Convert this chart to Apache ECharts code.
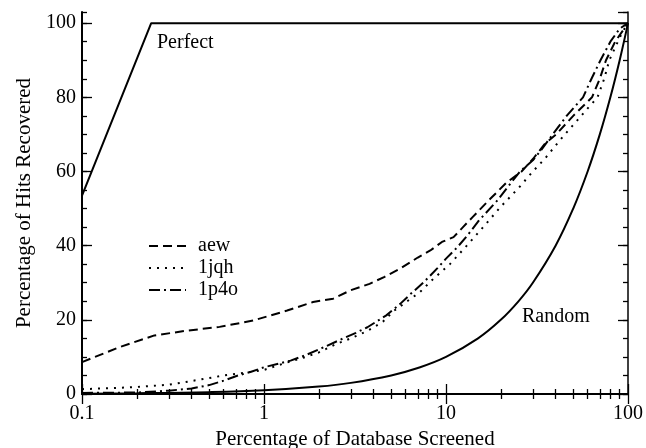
<!DOCTYPE html>
<html>
<head>
<meta charset="utf-8">
<script src="https://cdn.jsdelivr.net/npm/echarts@6/dist/echarts.min.js"></script>
<style>
  html, body { margin: 0; padding: 0; background: #fff; }
  #chart { width: 646px; height: 448px; }
</style>
</head>
<body>
<div id="chart"></div>
<script>
// Enrichment curves: % of hits recovered vs % of database screened (log x)
const minorTickValues = [0.2, 0.3, 0.4, 0.5, 0.6, 0.7, 0.8, 0.9,
                         2, 3, 4, 5, 6, 7, 8, 9,
                         20, 30, 40, 50, 60, 70, 80, 90];

const perfect = [[0.1, 53.5], [0.24, 100], [100, 100]];

const random = [[0.1, 0.1], [0.2, 0.2], [0.5, 0.5], [1, 1], [2, 2], [3, 3], [5, 5],
                [7, 7], [10, 10], [15, 15], [20, 20], [25, 25], [30, 30], [40, 40],
                [50, 50], [60, 60], [70, 70], [80, 80], [90, 90], [100, 100]];

const aew = [[0.1, 8.6], [0.16, 12.6], [0.25, 15.8], [0.38, 17.1], [0.57, 18.1],
             [0.87, 19.8], [1.34, 22.5], [1.86, 24.8], [2.4, 25.7], [3, 28],
             [3.8, 29.7], [4.6, 31.6], [5.6, 33.8], [7, 36.8], [8.2, 38.7],
             [9.5, 41], [11, 42.3], [12.4, 45], [14, 47.7], [17.4, 52.5],
             [21.5, 57], [26, 60], [30.2, 63.5], [35, 67.5], [40.3, 70],
             [50, 75], [63.4, 80], [70, 85], [75.7, 90], [85, 95], [100, 100]];

const jqh = [[0.1, 1.3], [0.15, 1.6], [0.2, 1.9], [0.3, 2.5], [0.4, 3.5], [0.5, 4.3],
             [0.6, 5.0], [0.8, 5.8], [1, 6.5], [1.3, 8.3], [1.6, 9.6], [2, 11.2],
             [2.5, 13.5], [3, 15], [3.7, 17], [4.5, 19.5], [5.2, 22.5], [6.2, 25.2],
             [7.2, 27.5], [8.5, 31], [10.5, 35], [13, 40], [16, 45], [20, 50.5],
             [25, 55.5], [30, 60], [35, 63.5], [40, 67], [45, 70], [52, 73.5],
             [60, 77], [68, 80], [74, 85], [79, 90], [86, 94], [93, 97.5], [100, 100]];

const p4o = [[0.1, 0.3], [0.2, 0.4], [0.3, 0.9], [0.4, 1.5], [0.5, 2.4], [0.6, 3.6],
             [0.7, 4.8], [0.85, 6], [1, 7.2], [1.4, 9.0], [1.7, 10.5], [2, 12],
             [2.7, 14.9], [3.2, 16.5], [3.7, 18], [4.7, 21.2], [5.6, 24.3], [6.4, 27],
             [7.5, 30], [9, 34], [10, 36.5], [11.5, 39.5], [13, 42.5], [15, 46.5],
             [19, 52], [22, 56], [25.5, 60], [30, 63], [33, 65.5], [38.6, 70],
             [46, 75], [56.6, 80], [63, 85], [70.6, 90], [80, 95], [90, 98.5], [100, 100]];

const FONT = 'Liberation Serif';
const chart = echarts.init(document.getElementById('chart'), null, { renderer: 'canvas' });

function xAxisBase(pos, tickLen, custom, withLine, lw) {
  const ax = {
    type: 'log', logBase: 10, min: 0.1, max: 100, position: pos,
    axisLine: { show: withLine, lineStyle: { color: '#000', width: lw } },
    axisTick: { show: true, inside: true, length: tickLen, lineStyle: { color: '#000', width: 1.3 } },
    axisLabel: { show: false },
    splitLine: { show: false }
  };
  if (custom) ax.axisTick.customValues = custom;
  return ax;
}
function yAxisBase(pos, tickLen, interval, withLine, lw) {
  return {
    type: 'value', min: 0, max: 103, interval: interval, position: pos,
    axisLine: { show: withLine, lineStyle: { color: '#000', width: lw } },
    axisTick: { show: true, inside: true, length: tickLen, lineStyle: { color: '#000', width: 1.3 } },
    axisLabel: { show: false },
    splitLine: { show: false }
  };
}

const xMain = xAxisBase('bottom', 10, null, true, 2);
xMain.axisLabel = { show: true, color: '#000', fontFamily: FONT, fontSize: 20, margin: 10 };
xMain.name = 'Percentage of Database Screened';
xMain.nameLocation = 'middle';
xMain.nameGap = 32;
xMain.nameTextStyle = { color: '#000', fontFamily: FONT, fontSize: 21 };

const yMain = yAxisBase('left', 10, 20, true, 2);
yMain.axisLabel = { show: true, color: '#000', fontFamily: FONT, fontSize: 20, margin: 6, showMaxLabel: false };
yMain.name = 'Percentage of Hits Recovered';
yMain.nameLocation = 'middle';
yMain.nameGap = 46;
yMain.nameTextStyle = { color: '#000', fontFamily: FONT, fontSize: 21 };

function line(name, data, dash) {
  return {
    name: name, type: 'line', data: data, xAxisIndex: 0, yAxisIndex: 0,
    symbol: 'none', smooth: false, silent: true, animation: false,
    itemStyle: { color: '#000' },
    lineStyle: { color: '#000', width: 2, type: dash }
  };
}

const randomSeries = line('Random', random, 'solid');
randomSeries.smooth = 0.4;

chart.setOption({
  animation: false,
  grid: { left: 82, right: 18, top: 12, bottom: 54, outerBoundsMode: 'none' },
  xAxis: [
    xMain,
    xAxisBase('bottom', 5, minorTickValues, false, 2),
    xAxisBase('top', 10, null, true, 1.5),
    xAxisBase('top', 5, minorTickValues, false, 1.5)
  ],
  yAxis: [
    yMain,
    yAxisBase('left', 5, 5, false, 2),
    yAxisBase('right', 10, 20, true, 1.5),
    yAxisBase('right', 5, 5, false, 1.5)
  ],
  legend: {
    data: ['aew', '1jqh', '1p4o'],
    orient: 'vertical', left: 143, top: 231,
    itemWidth: 37, itemHeight: 14, itemGap: 2,
    selectedMode: false,
    itemStyle: { opacity: 0 },
    textStyle: { color: '#000', fontFamily: FONT, fontSize: 20, lineHeight: 20, padding: [0, 0, 0, 7] }
  },
  graphic: [
    { type: 'text', left: 157, top: 33, silent: true,
      style: { text: 'Perfect', fill: '#000', font: '20px "Liberation Serif"' } },
    { type: 'text', left: 522, top: 307, silent: true,
      style: { text: 'Random', fill: '#000', font: '20px "Liberation Serif"' } }
  ],
  series: [
    line('Perfect', perfect, 'solid'),
    randomSeries,
    line('aew', aew, [9, 5]),
    line('1jqh', jqh, [2, 6]),
    line('1p4o', p4o, [11, 4, 2, 4])
  ]
});
</script>
</body>
</html>
